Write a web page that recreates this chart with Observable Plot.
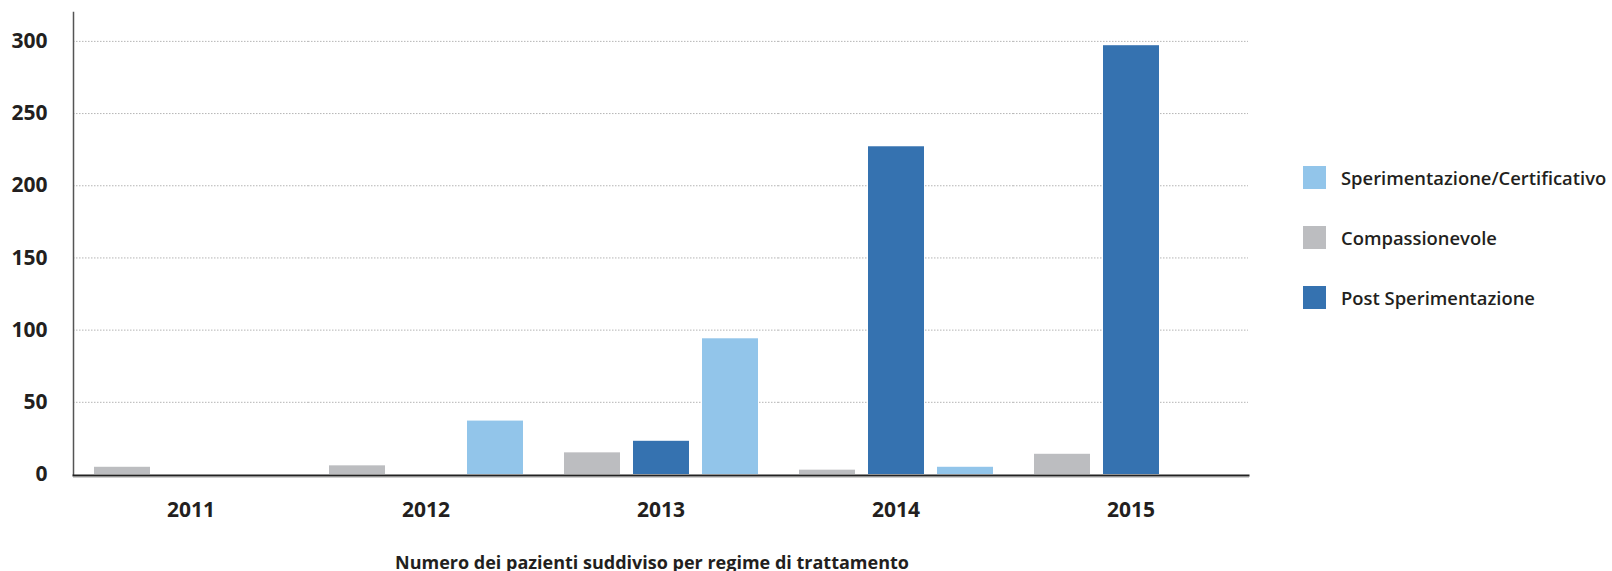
<!DOCTYPE html>
<html>
<head>
<meta charset="utf-8">
<script src="https://cdn.jsdelivr.net/npm/d3@7"></script>
<script src="https://cdn.jsdelivr.net/npm/@observablehq/plot@0.6"></script>
<style>
  html, body { margin: 0; padding: 0; background: #fff; }
  body { font-family: "Open Sans", sans-serif; color: #231f20; }
  #wrap { position: relative; width: 1612px; height: 571px; }
  #legend { position: absolute; left: 1303px; top: 166px; }
  .item { display: flex; align-items: center; height: 23px; margin-bottom: 37px; }
  .sw { width: 23px; height: 23px; margin-right: 15px; }
  .lab { font-size: 18.4px; font-weight: 600; white-space: nowrap; }
  #caption { position: absolute; left: 0; width: 1304px; top: 550px; text-align: center;
             font-size: 18px; font-weight: 700; line-height: 24px; }
</style>
</head>
<body>
<div id="wrap">
  <div id="chart"></div>
  <div id="legend"></div>
  <div id="caption">Numero dei pazienti suddiviso per regime di trattamento</div>
</div>
<script>
const years = ["2011", "2012", "2013", "2014", "2015"];
const series = ["Compassionevole", "Post Sperimentazione", "Sperimentazione/Certificativo"];
const compassionevole = [5, 6, 15, 3, 14];
const postSperimentazione = [0, 0, 23, 227, 297];
const sperimentazione = [0, 37, 94, 5, 0];
const seriesColors = ["#bcbdc0", "#3572b0", "#92c5ea"];
const legendOrder = ["Sperimentazione/Certificativo", "Compassionevole", "Post Sperimentazione"];
const yTicks = [0, 50, 100, 150, 200, 250, 300];

const valuesBySeries = [compassionevole, postSperimentazione, sperimentazione];
const data = years.flatMap((year, i) =>
  series.map((s, j) => ({year, series: s, value: valuesBySeries[j][i]}))
);

const chart = Plot.plot({
  width: 1612,
  height: 550,
  marginLeft: 72,
  marginRight: 364,
  marginTop: 12,
  marginBottom: 76,
  style: {fontFamily: "'Open Sans', sans-serif", color: "#231f20", background: "transparent"},
  fx: {domain: years, padding: 0, label: null},
  x: {domain: series, paddingInner: 0.194, paddingOuter: 0.2876, axis: null},
  y: {domain: [0, 320], label: null},
  color: {domain: series, range: seriesColors},
  marks: [
    Plot.ruleY(yTicks.slice(1), {stroke: "#b5b5b5", strokeDasharray: "1.5,1.5"}),
    Plot.barY(data, {fx: "year", x: "series", y: "value", fill: "series"}),
    Plot.frame({facet: "super", anchor: "left", stroke: "#555", strokeWidth: 1.5}),
    Plot.frame({facet: "super", anchor: "bottom", stroke: "#cfcfcf", strokeWidth: 1, dy: 3}),
    Plot.frame({facet: "super", anchor: "bottom", stroke: "#222", strokeWidth: 2, dy: 1}),
    Plot.axisY(yTicks, {tickSize: 0, tickPadding: 26, fontSize: 21, fontWeight: "bold", label: null}),
    Plot.axisFx({anchor: "bottom", tickSize: 0, tickPadding: 28, fontSize: 21, fontWeight: "bold", label: null})
  ]
});
document.getElementById("chart").appendChild(chart);

const legend = document.getElementById("legend");
for (const s of legendOrder) {
  const item = document.createElement("div");
  item.className = "item";
  const sw = document.createElement("div");
  sw.className = "sw";
  sw.style.background = seriesColors[series.indexOf(s)];
  const lab = document.createElement("div");
  lab.className = "lab";
  lab.textContent = s;
  item.appendChild(sw);
  item.appendChild(lab);
  legend.appendChild(item);
}
</script>
</body>
</html>
